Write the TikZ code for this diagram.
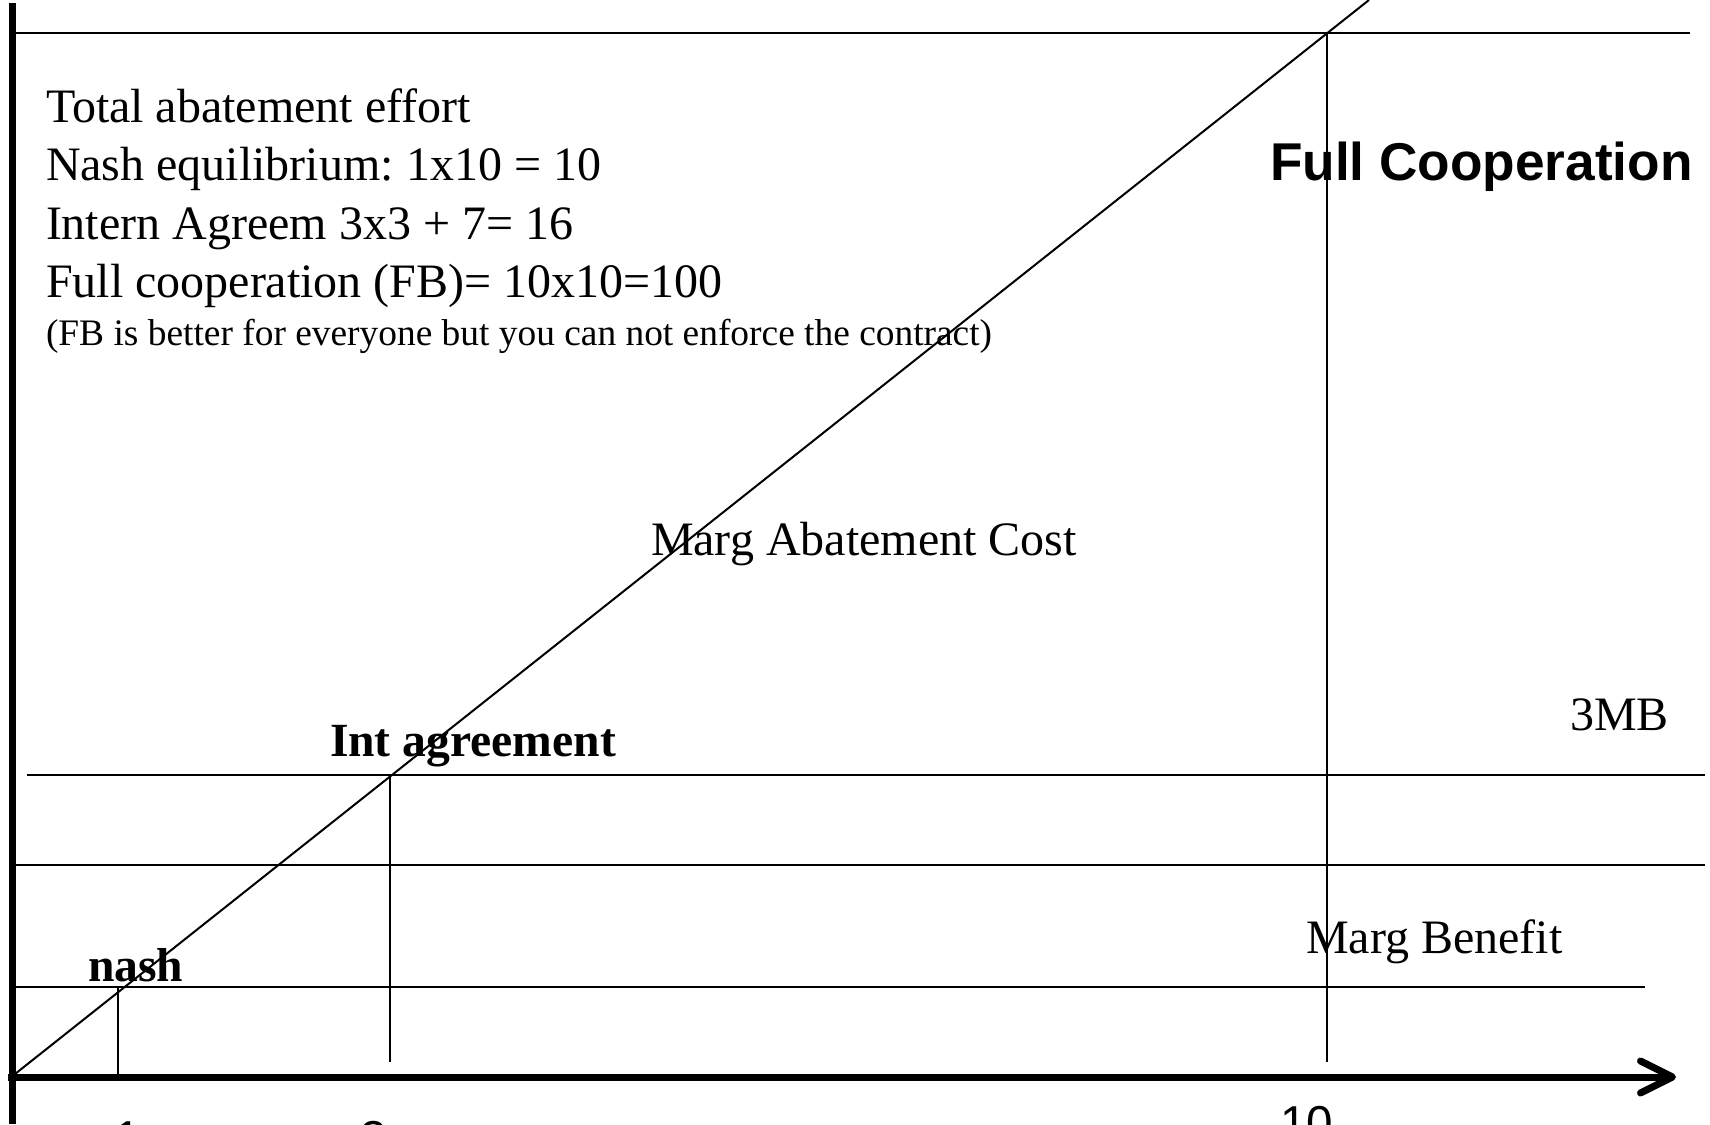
\documentclass[tikz,border=0pt]{standalone}
\usepackage{fontspec}
\setmainfont{Liberation Serif}
\newfontfamily\arialfont{Liberation Sans}
\usetikzlibrary{arrows.meta}
\frenchspacing
\begin{document}
\begin{tikzpicture}[x=1pt,y=-1pt,
  thinline/.style={line width=2pt, black},
  axisline/.style={line width=7pt, black},
  lbl/.style={anchor=base west, inner sep=0pt, outer sep=0pt},
  bigtxt/.style={lbl, font=\fontsize{48}{58}\selectfont},
  smalltxt/.style={lbl, font=\fontsize{37.4}{45}\selectfont},
  boldtxt/.style={lbl, font=\fontsize{47.6}{58}\selectfont\bfseries},
  sanstxt/.style={lbl, font=\fontsize{53.2}{60}\selectfont\arialfont\bfseries},
  ticktxt/.style={lbl, font=\fontsize{47.6}{58}\selectfont\arialfont}
]
\useasboundingbox[fill=white] (0,0) rectangle (1710,1124);

% coordinates
\coordinate (ytop) at (12,3);
\coordinate (ybot) at (12,1124);
\coordinate (xstart) at (8,1077);
\coordinate (xend) at (1676,1077);
\coordinate (dstart) at (15,1074);
\coordinate (dend) at (1369,0);
\coordinate (fbL) at (15,33);
\coordinate (fbR) at (1690,33);
\coordinate (iaL) at (27,775);
\coordinate (iaR) at (1705,775);
\coordinate (mbL) at (15,865);
\coordinate (mbR) at (1705,865);
\coordinate (nL) at (15,987);
\coordinate (nR) at (1645,987);
\coordinate (nvT) at (118,987);
\coordinate (nvB) at (118,1074);
\coordinate (ivT) at (390,775);
\coordinate (ivB) at (390,1062);
\coordinate (fvT) at (1327,33);
\coordinate (fvB) at (1327,1062);

% thin lines
\draw[thinline] (fbL) -- (fbR);
\draw[thinline] (iaL) -- (iaR);
\draw[thinline] (mbL) -- (mbR);
\draw[thinline] (nL) -- (nR);
\draw[thinline] (nvT) -- (nvB);
\draw[thinline] (ivT) -- (ivB);
\draw[thinline] (fvT) -- (fvB);
\draw[thinline] (dstart) -- (dend);

% axes
\draw[axisline] (ytop) -- (ybot);
\draw[axisline, -{Straight Barb[length=32pt,width=32pt,round]}] (xstart) -- (xend);

% texts
\node[bigtxt] (t1) at (46,122) {Total abatement effort};
\node[bigtxt] (t2) at (46,180.5) {Nash equilibrium: 1x10 = 10};
\node[bigtxt] (t3) at (46,239) {Intern Agreem 3x3 + 7= 16};
\node[bigtxt] (t4) at (46,297.5) {Full cooperation (FB)= 10x10=100};
\node[smalltxt] (t5) at (46,345) {(FB is better for everyone but you can not enforce the contract)};

\node[sanstxt] (fc) at (1270,180) {Full Cooperation};
\node[bigtxt] (mac) at (651,555) {Marg Abatement Cost};
\node[bigtxt] (mb3) at (1570,730) {3MB};
\node[boldtxt] (ia) at (330,756.5) {Int agreement};
\node[bigtxt] (mben) at (1306,953) {Marg Benefit};
\node[boldtxt] (nash) at (88,981.5) {nash};

\node[ticktxt] (k1) at (114,1154) {1};
\node[ticktxt] (k3) at (360,1154) {3};
\node[ticktxt] (k10) at (1280,1139) {10};
\end{tikzpicture}
\end{document}
